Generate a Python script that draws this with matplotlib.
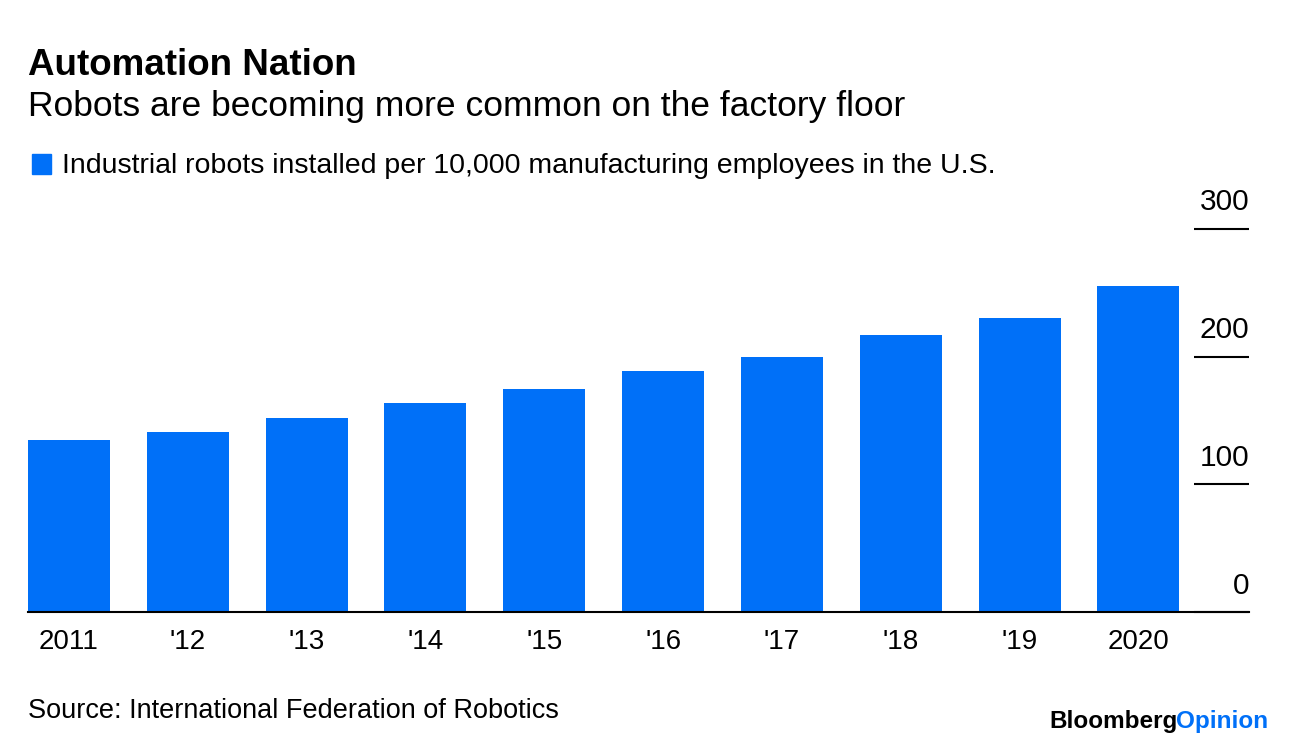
import matplotlib
matplotlib.use("Agg")
import matplotlib.pyplot as plt

plt.rcParams['font.family'] = ['Liberation Sans', 'DejaVu Sans']

# data
years = ['2011', "'12", "'13", "'14", "'15", "'16", "'17", "'18", "'19", '2020']
density = [135, 141, 152, 164, 175, 189, 200, 217, 230, 255]
yticks = [0, 100, 200, 300]

blue = '#0070f8'
W, H = 1296, 748

fig = plt.figure(figsize=(W / 100, H / 100), dpi=100)
ax = fig.add_axes([28 / W, (H - 612) / H, (1249 - 28) / W, (612 - 229) / H])

x = range(len(years))
ax.bar(x, density, width=0.69, color=blue, zorder=2)
ax.set_xlim(-0.345, 9.93)
ax.set_ylim(0, 300)

for s in ['top', 'left', 'right']:
    ax.spines[s].set_visible(False)
ax.spines['bottom'].set_linewidth(1.5)
ax.spines['bottom'].set_zorder(3)

ax.set_xticks(list(x))
ax.set_xticklabels(years, fontsize=20)
ax.tick_params(axis='x', length=0, pad=12)

# short tick lines on the right with labels sitting above them
ax.set_yticks(yticks)
ax.tick_params(axis='y', left=False, right=True, direction='in', length=39.5,
               width=1.5, labelleft=False, labelright=False)
for v in yticks:
    ax.annotate(str(v), xy=(1, v), xycoords=ax.get_yaxis_transform(),
                xytext=(0, 9), textcoords='offset points',
                ha='right', va='bottom', fontsize=21.5)

# titles
fig.text(28 / W, 1 - 75 / H, 'Automation Nation', fontsize=26.5, fontweight='bold',
         va='baseline')
fig.text(28 / W, 1 - 116 / H, 'Robots are becoming more common on the factory floor',
         fontsize=25.5, va='baseline')
fig.patches.append(plt.Rectangle((32 / W, 1 - 174 / H), 19 / W, 20 / H,
                                 transform=fig.transFigure, color=blue))
fig.text(62 / W, 1 - 173 / H,
         'Industrial robots installed per 10,000 manufacturing employees in the U.S.',
         fontsize=20.5, va='baseline')

fig.text(28 / W, 1 - 718 / H, 'Source: International Federation of Robotics',
         fontsize=19.5, va='baseline')
t = fig.text(1268 / W, 1 - 728 / H, 'Opinion', fontsize=17.5, fontweight='bold',
             color=blue, ha='right', va='baseline')
fig.canvas.draw()
bb = t.get_window_extent()
fig.text((bb.x0 + 2) / W, 1 - 728 / H, 'Bloomberg', fontsize=17.5, fontweight='bold',
         color='black', ha='right', va='baseline')

fig.savefig('out.png', dpi=100)
